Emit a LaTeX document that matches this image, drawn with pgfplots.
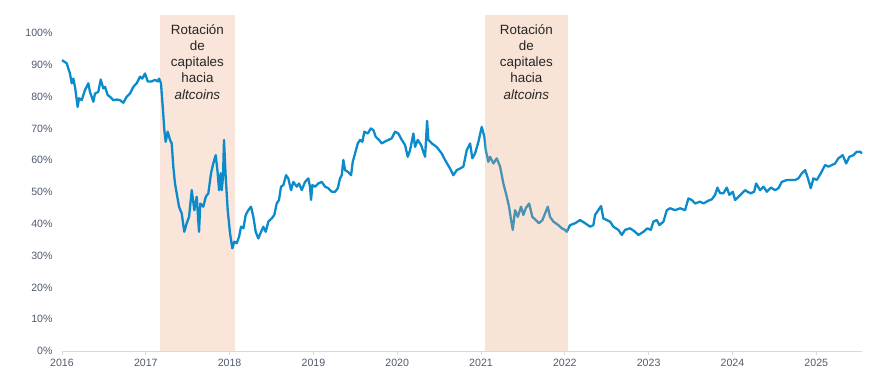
\documentclass[border=0pt]{standalone}
\usepackage{pgfplots}
\pgfplotsset{compat=1.18}
\usepackage{fontspec}
\setmainfont{Liberation Sans}
\definecolor{linec}{HTML}{0B8BCB}
\definecolor{shadec}{HTML}{F9E5D9}
\definecolor{shadeo}{HTML}{E8A27A}
\definecolor{tickc}{HTML}{4F5A6E}
\definecolor{axc}{HTML}{D9D9D9}
\begin{document}
\begin{tikzpicture}
\begin{axis}[
  scale only axis, width=800pt, height=336pt,
  xmin=2016, xmax=2025.545, ymin=0, ymax=105.7,
  axis x line=bottom, axis y line=left,
  x axis line style={draw=axc, line width=0.8pt, -},
  y axis line style={draw=none},
  xtick={2016,...,2025}, ytick={0,10,...,100},
  tick align=outside, major tick length=4pt,
  xtick style={draw=axc, line width=0.8pt}, ytick style={draw=none},
  /pgf/number format/assume math mode=true,
  /pgf/number format/1000 sep={},
  xticklabel style={font=\fontsize{10.6}{12}\selectfont, text=tickc, yshift=-1pt},
  yticklabel style={font=\fontsize{10.6}{12}\selectfont, text=tickc, xshift=-2pt},
  yticklabel={\pgfmathprintnumber{\tick}\%},
  clip=false,
]
\fill[shadec] (axis cs:2017.169,0) rectangle (axis cs:2018.064,105.7);
\addplot[linec, line width=2.3pt, line join=round] coordinates {
(2016.000,91.5)(2016.056,90.5)(2016.095,87.3)(2016.116,84.2)(2016.135,85.7)(2016.155,83.1)
(2016.187,76.8)(2016.203,79.5)(2016.235,78.9)(2016.274,82.1)(2016.314,84.2)(2016.334,81.5)
(2016.374,78.4)(2016.394,81.0)(2016.433,81.5)(2016.462,85.4)(2016.493,82.6)(2016.513,83.1)
(2016.545,80.5)(2016.573,80.0)(2016.612,78.9)(2016.653,79.1)(2016.692,78.9)(2016.732,78.1)
(2016.772,80.0)(2016.811,81.0)(2016.851,83.1)(2016.891,84.2)(2016.931,86.3)(2016.958,85.7)
(2016.990,87.3)(2017.023,84.8)(2017.070,84.8)(2017.110,85.3)(2017.142,84.8)(2017.158,85.7)
(2017.181,84.2)(2017.202,76.8)(2017.221,69.5)(2017.237,65.8)(2017.261,69.0)(2017.289,66.4)
(2017.309,65.3)(2017.328,58.0)(2017.348,52.7)(2017.376,48.5)(2017.396,45.4)(2017.428,43.3)
(2017.459,37.5)(2017.488,40.2)(2017.516,42.2)(2017.548,50.6)(2017.579,44.3)(2017.607,48.5)
(2017.635,37.5)(2017.650,46.4)(2017.686,45.4)(2017.715,48.5)(2017.746,49.6)(2017.778,55.9)
(2017.805,59.0)(2017.834,61.6)(2017.858,55.9)(2017.874,50.6)(2017.894,55.9)(2017.906,50.6)
(2017.921,54.8)(2017.933,66.4)(2017.953,54.8)(2017.977,44.3)(2018.005,37.0)(2018.032,32.3)
(2018.056,34.4)(2018.085,33.9)(2018.112,35.9)(2018.136,39.1)(2018.164,38.6)(2018.192,42.8)
(2018.223,44.3)(2018.255,45.4)(2018.283,42.2)(2018.311,37.5)(2018.342,35.4)(2018.375,37.5)
(2018.402,39.1)(2018.431,37.5)(2018.462,40.7)(2018.502,41.7)(2018.533,42.8)(2018.562,46.4)
(2018.589,47.5)(2018.613,51.7)(2018.641,52.2)(2018.673,55.3)(2018.700,54.3)(2018.733,50.6)
(2018.760,53.2)(2018.801,51.7)(2018.828,52.7)(2018.860,50.6)(2018.900,53.2)(2018.939,54.3)
(2018.959,51.7)(2018.971,47.5)(2018.987,52.2)(2019.019,51.7)(2019.058,52.7)(2019.099,53.2)
(2019.138,51.7)(2019.178,51.2)(2019.218,50.1)(2019.258,50.1)(2019.290,51.2)(2019.317,54.3)
(2019.338,55.3)(2019.357,60.1)(2019.377,56.9)(2019.409,56.4)(2019.449,55.3)(2019.469,59.5)
(2019.496,62.1)(2019.529,65.3)(2019.556,66.4)(2019.584,65.8)(2019.607,69.0)(2019.648,68.4)
(2019.684,70.0)(2019.715,69.5)(2019.743,67.4)(2019.783,66.4)(2019.815,65.3)(2019.846,65.8)
(2019.894,66.4)(2019.934,66.9)(2019.974,69.0)(2020.013,68.4)(2020.054,66.4)(2020.093,64.8)
(2020.125,61.1)(2020.153,63.2)(2020.192,68.4)(2020.212,64.2)(2020.245,66.4)(2020.284,64.8)
(2020.332,61.1)(2020.356,72.4)(2020.371,66.4)(2020.412,65.3)(2020.471,64.2)(2020.531,62.1)
(2020.570,60.1)(2020.630,57.4)(2020.669,55.3)(2020.710,56.9)(2020.749,57.4)(2020.789,58.0)
(2020.829,63.2)(2020.869,65.3)(2020.896,60.6)(2020.928,62.1)(2020.968,65.8)(2021.008,70.5)
(2021.039,67.4)(2021.056,63.2)(2021.087,59.5)(2021.107,61.1)(2021.147,59.0)(2021.187,60.6)
(2021.227,58.0)(2021.266,52.7)(2021.307,48.5)(2021.334,45.4)(2021.358,41.2)(2021.378,38.1)
(2021.406,44.3)(2021.438,42.2)(2021.477,45.4)(2021.505,42.8)(2021.533,44.9)(2021.573,46.4)
(2021.612,42.2)(2021.653,41.2)(2021.692,40.2)(2021.732,41.2)(2021.764,43.3)(2021.796,45.4)
(2021.823,42.2)(2021.863,40.7)(2021.922,39.6)(2021.963,38.6)(2022.002,38.1)(2022.022,37.5)
(2022.062,39.6)(2022.122,40.2)(2022.181,41.2)(2022.241,40.2)(2022.301,39.1)(2022.340,39.6)
(2022.360,42.8)(2022.399,44.3)(2022.432,45.6)(2022.459,41.7)(2022.500,41.2)(2022.539,40.7)
(2022.579,39.1)(2022.638,38.1)(2022.679,36.5)(2022.718,38.1)(2022.778,38.6)(2022.838,37.5)
(2022.877,36.5)(2022.937,37.5)(2022.985,38.6)(2023.025,38.1)(2023.056,40.7)(2023.097,41.2)
(2023.128,39.6)(2023.176,40.7)(2023.216,44.3)(2023.255,44.9)(2023.315,44.3)(2023.375,44.9)
(2023.434,44.3)(2023.474,48.0)(2023.514,47.5)(2023.554,46.4)(2023.613,47.0)(2023.653,46.4)
(2023.712,47.3)(2023.753,47.7)(2023.792,49.1)(2023.820,51.4)(2023.852,49.6)(2023.891,49.6)
(2023.932,51.4)(2023.963,49.1)(2024.003,50.1)(2024.031,47.5)(2024.070,48.5)(2024.111,49.6)
(2024.150,50.6)(2024.178,50.1)(2024.218,49.6)(2024.258,50.1)(2024.282,52.7)(2024.329,50.6)
(2024.369,51.7)(2024.409,50.1)(2024.457,51.4)(2024.508,50.6)(2024.548,51.2)(2024.588,53.2)
(2024.648,53.8)(2024.708,53.8)(2024.747,53.8)(2024.786,54.3)(2024.827,55.9)(2024.866,56.9)
(2024.894,54.8)(2024.934,51.2)(2024.965,54.3)(2025.006,53.8)(2025.053,55.9)(2025.105,58.5)
(2025.146,58.0)(2025.185,58.5)(2025.224,59.0)(2025.263,60.6)(2025.315,61.6)(2025.356,59.0)
(2025.395,61.1)(2025.443,61.6)(2025.483,62.7)(2025.523,62.7)(2025.543,62.1)
};
\fill[shadeo, opacity=0.3] (axis cs:2021.048,0) rectangle (axis cs:2022.035,105.7);
\node[anchor=north, align=center, inner sep=0pt, text=black!85,
  font=\fontsize{13.4}{16.2}\selectfont] at (axis cs:2017.616,102.8)
  {Rotación\\de\\capitales\\hacia\\\textit{altcoins}};
\node[anchor=north, align=center, inner sep=0pt, text=black!85,
  font=\fontsize{13.4}{16.2}\selectfont] at (axis cs:2021.541,102.8)
  {Rotación\\de\\capitales\\hacia\\\textit{altcoins}};
\end{axis}
\pgfresetboundingbox
\useasboundingbox ([shift={(-62pt,-36pt)}]current axis.south west) rectangle ([shift={(7pt,15pt)}]current axis.north east);
\end{tikzpicture}
\end{document}
